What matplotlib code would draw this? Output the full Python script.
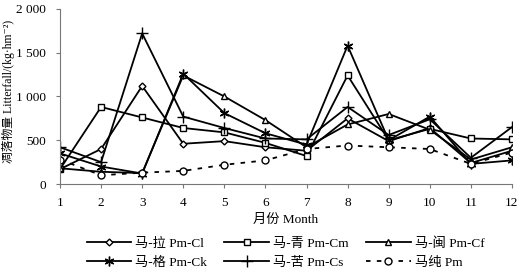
import matplotlib
matplotlib.use("Agg")
import matplotlib.pyplot as plt
from matplotlib.ticker import FuncFormatter

plt.rcParams['font.family'] = ['Liberation Serif', 'Noto Sans CJK SC', 'DejaVu Sans']

months = list(range(1, 13))

# litterfall by month, kg/hm2
pm_cl = [170, 400, 1120, 460, 490, 420, 380, 750, 490, 640, 240, 380]
pm_cm = [170, 880, 760, 640, 590, 470, 320, 1240, 500, 630, 520, 510]
pm_cf = [180, 140, 125, 1240, 1000, 730, 420, 680, 800, 620, 280, 420]
pm_ck = [350, 200, 120, 1260, 810, 580, 450, 1580, 500, 770, 230, 270]
pm_cs = [420, 250, 1720, 770, 640, 520, 510, 880, 560, 740, 300, 650]
pm = [280, 100, 130, 150, 220, 270, 400, 440, 420, 400, 230, 360]

labels = ['马-拉 Pm-Cl', '马-青 Pm-Cm', '马-闽 Pm-Cf',
          '马-格 Pm-Ck', '马-苦 Pm-Cs', '马纯 Pm']

fig = plt.figure(figsize=(5.24, 2.78), dpi=100)
ax = fig.add_axes([0.1145, 0.338, 0.8625, 0.63])

common = dict(color='black', lw=1.3, mfc='white', mec='black', mew=1.0)
ax.plot(months, pm_cl, marker='D', ms=3.5, label=labels[0], **common)
ax.plot(months, pm_cm, marker='s', ms=5, label=labels[1], **common)
ax.plot(months, pm_cf, marker='^', ms=5, label=labels[2], **common)
ax.plot(months, pm_ck, marker=(6, 2, 0), ms=7, label=labels[3], **common)
ax.plot(months, pm_cs, marker='+', ms=8, label=labels[4], **common)
ax.plot(months, pm, marker='o', ms=5, ls=(0, (2.5, 3.5)), label=labels[5], **common)

ax.set_xlim(1, 12)
ax.set_ylim(0, 2000)
ax.set_xticks(months)
ax.set_yticks([0, 500, 1000, 1500, 2000])
ax.yaxis.set_major_formatter(FuncFormatter(lambda v, p: f'{int(v):,}'.replace(',', ' ')))
ax.tick_params(labelsize=9.5, length=3, width=0.8, color='#777777', pad=7)
ax.tick_params(axis='x', pad=6)

for s in ['top', 'right']:
    ax.spines[s].set_visible(False)
for s in ['left', 'bottom']:
    ax.spines[s].set_color('#777777')
    ax.spines[s].set_linewidth(0.8)

ax.set_xlabel('月份 Month', fontsize=9.5, labelpad=4)
ax.set_ylabel('凋落物量 Litterfall/(kg·hm⁻²)', fontsize=8.5)
ax.yaxis.set_label_coords(-0.1, 0.53)

# legend fills column-wise, reorder so rows read Cl Cm Cf / Ck Cs Pm
h, l = ax.get_legend_handles_labels()
order = [0, 3, 1, 4, 2, 5]
fig.legend([h[i] for i in order], [l[i] for i in order],
           loc='lower center', bbox_to_anchor=(0.545, -0.01), ncol=3,
           frameon=False, fontsize=9.5, handlelength=3.4, columnspacing=1.3,
           handletextpad=0.3, labelspacing=0.5)

fig.savefig('out.png', dpi=100)
